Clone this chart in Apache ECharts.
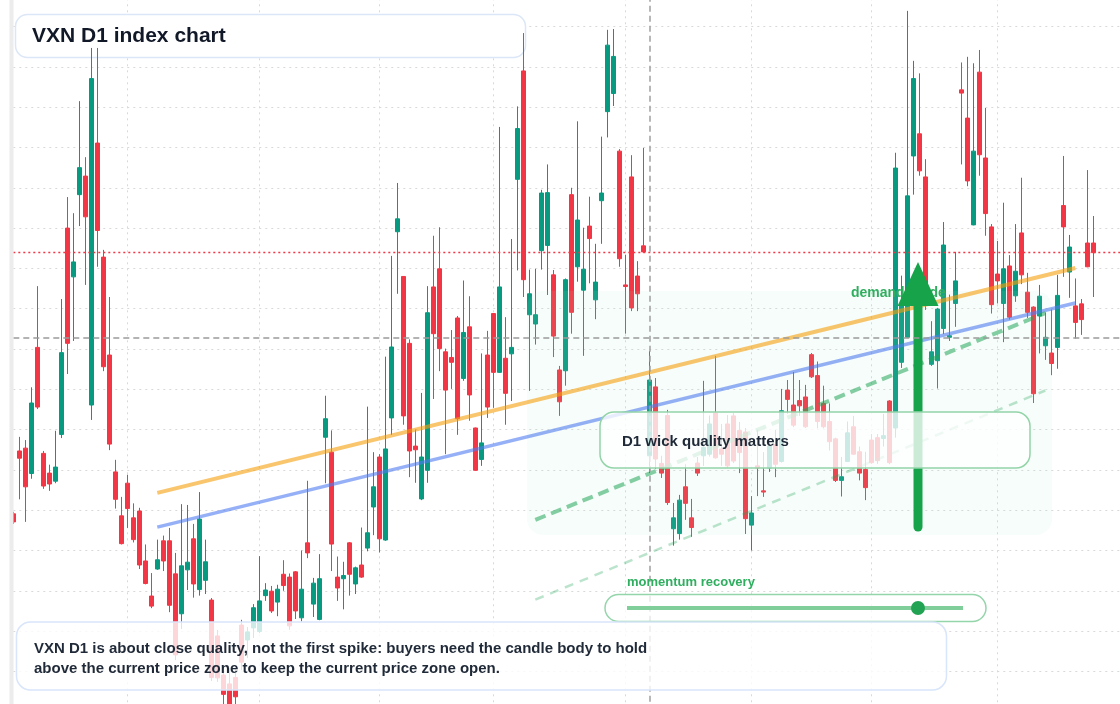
<!DOCTYPE html>
<html>
<head>
<meta charset="utf-8">
<script src="https://cdn.jsdelivr.net/npm/echarts@6/dist/echarts.min.js"></script>
<style>
html,body{margin:0;padding:0;background:#ffffff;}
#chart{width:1120px;height:704px;}
</style>
</head>
<body>
<div id="chart"></div>
<script>
// ---- data (VXN daily candles) ----
const openVals = [
27.91,29.47,29.54,28.91,32.04,29.41,28.92,28.72,29.88,35.00,
33.79,35.83,36.29,30.61,37.11,34.28,31.85,28.95,27.86,28.67,
27.81,27.98,26.74,25.87,26.54,27.24,27.24,26.42,25.43,26.52,
27.29,26.03,26.26,25.77,24.88,23.91,23.69,23.85,25.15,24.78,
25.08,24.99,25.88,25.99,25.72,26.41,26.34,26.47,25.33,27.19,
25.67,25.29,29.81,29.44,26.34,26.30,27.19,26.17,26.64,27.06,
28.08,29.32,27.26,30.29,34.91,33.80,32.14,29.59,28.28,28.99,
33.54,33.99,31.93,31.79,32.77,31.27,32.55,30.04,29.26,31.85,
32.88,31.42,31.77,31.88,36.21,38.90,32.85,32.62,34.44,34.57,
33.84,31.48,31.46,35.83,34.04,33.46,35.05,33.22,35.68,37.89,
38.34,36.91,33.59,36.27,33.81,34.56,29.35,31.06,29.16,30.35,
27.54,27.42,28.58,27.81,29.17,29.35,29.39,30.41,29.52,30.14,
30.34,29.98,29.94,27.63,29.10,28.48,29.05,29.63,29.21,30.98,
30.61,30.72,30.81,31.86,31.34,30.65,30.20,29.77,28.74,29.21,
30.07,29.45,29.01,29.74,29.80,29.78,30.71,30.04,31.67,32.29,
36.79,37.34,36.27,31.62,31.71,32.51,32.29,33.13,38.43,37.73,
35.08,38.87,36.74,35.03,33.86,33.13,34.06,33.32,34.88,33.41,
33.04,32.82,32.08,31.90,32.04,35.56,33.91,33.07,33.12,34.63,
34.63
];
const closeVals = [
27.71,29.29,28.58,30.66,30.56,28.60,28.65,29.07,31.91,32.14,
34.16,36.50,35.28,38.71,34.94,31.56,29.64,28.27,27.17,28.04,
27.27,26.64,26.18,25.62,26.77,26.74,25.64,24.41,26.62,26.71,
26.17,27.78,26.72,23.85,23.84,23.43,23.14,23.37,24.23,24.98,
25.58,25.75,26.02,25.50,26.04,26.13,25.13,25.50,26.04,26.94,
26.19,26.30,30.27,27.16,26.07,26.38,26.41,26.57,26.34,27.44,
28.58,27.29,29.52,32.05,35.23,30.34,29.47,29.50,29.32,32.90,
32.38,32.01,30.98,31.67,30.27,32.41,30.86,28.99,29.67,30.56,
31.42,33.54,30.90,32.04,37.47,33.72,33.37,32.85,35.87,35.88,
32.32,30.69,33.72,32.91,35.20,33.98,34.74,33.66,35.87,39.54,
39.26,34.24,33.55,33.02,33.37,34.41,31.23,29.27,28.92,28.19,
27.81,28.25,28.17,27.57,28.92,29.56,30.14,29.30,29.39,29.10,
29.22,29.43,27.79,27.93,29.05,28.45,29.59,29.14,30.47,30.75,
30.11,30.59,30.07,31.31,30.20,30.07,29.70,28.74,28.83,29.92,
29.39,28.92,28.56,29.18,29.23,29.85,29.18,36.49,33.08,35.80,
38.71,36.42,33.13,31.93,32.99,34.58,32.33,33.69,38.35,36.17,
36.91,36.82,35.36,33.10,33.69,33.99,32.79,33.93,33.84,32.91,
30.89,33.31,32.29,31.64,33.33,35.03,34.53,32.66,32.73,34.04,
34.39
];
const lowVals = [
27.66,28.27,27.71,28.78,30.51,28.53,28.48,28.67,29.79,31.38,
32.20,35.05,33.59,30.24,34.04,31.45,29.49,28.04,27.15,27.56,
27.20,26.54,26.16,25.57,26.52,26.49,25.47,24.28,25.05,26.02,
25.83,25.88,25.92,23.76,23.74,23.05,23.02,23.19,24.03,24.33,
24.83,24.95,25.75,25.45,25.37,26.00,25.03,25.30,25.24,26.81,
25.35,25.27,28.67,26.49,25.75,25.54,25.88,25.92,26.32,26.98,
27.38,26.95,27.24,29.87,33.37,30.12,28.82,28.68,28.25,28.68,
30.76,31.45,29.39,31.01,29.87,31.21,30.22,28.98,29.10,30.29,
30.54,31.41,30.12,30.71,33.95,33.29,30.96,32.11,33.97,33.34,
31.80,30.34,31.09,32.38,33.67,31.83,33.63,32.74,34.61,37.25,
38.03,34.04,32.38,32.94,32.94,34.39,28.92,29.02,28.80,28.13,
27.12,27.27,27.76,27.34,28.85,29.10,29.33,29.28,29.10,29.05,
29.17,28.92,27.41,27.00,28.35,28.33,28.95,28.82,29.18,30.39,
30.06,30.34,30.04,31.28,30.03,30.03,29.48,28.70,28.34,29.20,
29.37,28.74,28.25,29.15,29.15,29.58,29.14,29.80,31.53,32.27,
35.83,36.30,32.97,31.58,31.02,32.37,32.20,32.55,36.58,36.04,
35.07,36.30,34.81,32.88,33.13,32.17,32.73,33.17,33.61,32.77,
30.66,31.89,31.73,31.35,31.51,33.79,33.27,32.26,32.35,34.03,
33.29
];
const highVals = [
27.96,29.82,29.74,31.05,33.56,29.47,29.13,29.97,33.24,35.77,
35.37,38.15,36.76,39.47,39.47,34.46,33.29,29.25,28.33,28.88,
28.17,28.06,27.15,26.44,27.27,27.37,27.56,26.94,28.15,28.13,
27.66,28.45,27.27,25.82,25.03,24.16,24.08,24.08,25.28,25.10,
25.67,26.86,26.19,26.12,26.15,26.76,26.43,26.49,27.00,28.73,
26.32,26.91,30.84,29.98,26.85,26.72,27.21,26.60,27.57,30.57,
29.44,29.39,31.81,34.31,36.12,33.81,32.24,30.00,30.91,33.56,
34.81,35.02,32.01,32.47,32.82,33.70,33.31,30.05,31.89,32.45,
32.89,37.51,32.79,34.73,38.02,39.84,33.97,33.99,35.95,36.58,
33.96,31.58,33.75,36.00,37.65,35.01,35.78,34.61,37.27,39.92,
39.94,36.96,34.34,36.81,34.18,36.99,31.95,31.28,29.35,30.49,
28.18,28.38,29.14,28.28,29.32,31.21,30.35,31.83,30.14,30.36,
30.41,30.19,30.04,28.35,29.99,29.44,29.74,29.99,31.01,31.23,
31.43,31.23,31.11,31.90,31.69,31.09,30.65,29.80,29.32,30.20,
30.34,29.58,29.45,29.89,29.89,30.39,30.73,36.87,33.82,40.39,
39.15,38.84,36.71,32.69,33.02,35.15,33.35,34.41,39.11,39.25,
39.09,39.42,37.98,35.10,34.68,35.63,34.33,35.10,36.25,33.89,
33.06,33.59,32.91,32.98,33.84,36.79,34.83,33.75,33.24,36.44,
35.30
];
// candle slots on the axis (data + empty slots to the right)
const totalSlots = 186;
// month-start candles where vertical grid lines are drawn
const monthLineIdx = [19, 41, 61, 80, 102, 123, 143, 164];
// reference levels
const redLevel = 34.41;
const currentLevel = 32.27;
const focusIdx = 106;
// guide lines [candle index, value]
const orangeGuide = [[24, 28.43], [177, 34.01]];
const blueGuide = [[24, 27.58], [177, 33.14]];
const greenGuide = [[87, 27.76], [172, 32.89]];
const paleGuide = [[87, 25.78], [172, 30.97]];

// ---- category labels (trading days) ----
const categories = [];
{
  const d = new Date(Date.UTC(2024, 0, 2));
  while (categories.length < totalSlots) {
    const wd = d.getUTCDay();
    if (wd !== 0 && wd !== 6) categories.push(d.toISOString().slice(0, 10));
    d.setUTCDate(d.getUTCDate() + 1);
  }
}
const candleData = openVals.map((o, i) => [o, closeVals[i], lowVals[i], highVals[i]]);
const toSeries = (pts) => pts.map(p => [categories[p[0]], p[1]]);

const FONT = '"Liberation Sans", Arial, Helvetica, sans-serif';
const UP = '#089981', DOWN = '#f23645';
const gridLine = { color: '#d9d9d9', width: 1, type: [2, 4] };

function txt(text, x, y, size, color, z) {
  return {
    type: 'text', z: z, silent: true,
    style: {
      text: text, x: x, y: y,
      font: 'bold ' + size + 'px ' + FONT,
      fill: color,
      align: 'left', verticalAlign: 'middle',
      textAlign: 'left', textVerticalAlign: 'middle'
    }
  };
}

const chart = echarts.init(document.getElementById('chart'), null, { renderer: 'canvas' });
chart.setOption({
  animation: false,
  backgroundColor: '#ffffff',
  grid: { left: 13.3, right: -3.3, top: -13.7, bottom: -7.7, containLabel: false, outerBoundsMode: 'none' },
  xAxis: {
    type: 'category',
    data: categories,
    boundaryGap: false,
    axisLine: { show: false },
    axisTick: { show: false },
    axisLabel: { show: false },
    splitLine: {
      show: true,
      interval: (idx) => monthLineIdx.indexOf(idx) >= 0,
      lineStyle: gridLine
    }
  },
  yAxis: {
    type: 'value',
    min: 23, max: 41, interval: 1,
    axisLine: { show: false },
    axisTick: { show: false },
    axisLabel: { show: false },
    splitLine: { show: true, lineStyle: gridLine }
  },
  series: [
    {
      type: 'candlestick',
      z: 2,
      clip: true,
      barWidth: 4,
      data: candleData,
      itemStyle: {
        color: UP, color0: DOWN,
        borderColor: UP, borderColor0: DOWN,
        borderWidth: 1
      },
      markLine: {
        silent: true,
        symbol: ['none', 'none'],
        label: { show: false },
        emphasis: { disabled: true },
        data: [
          { yAxis: redLevel, lineStyle: { color: '#f23645', type: [2, 3], width: 1.3 } },
          { yAxis: currentLevel, lineStyle: { color: '#9a9a9a', type: [6, 4], width: 1.5 } },
          { xAxis: categories[focusIdx], lineStyle: { color: '#a0a0a0', type: [6, 4], width: 1.5 } }
        ]
      }
    },
    {
      type: 'line', z: 4, silent: true, symbol: 'none',
      data: toSeries(orangeGuide),
      lineStyle: { color: '#f59e0b', width: 4, opacity: 0.6 }
    },
    {
      type: 'line', z: 4, silent: true, symbol: 'none',
      data: toSeries(blueGuide),
      lineStyle: { color: '#4f7cf0', width: 3.5, opacity: 0.6 }
    },
    {
      type: 'line', z: 4, silent: true, symbol: 'none',
      data: toSeries(greenGuide),
      lineStyle: { color: '#22a55a', width: 4, opacity: 0.55, type: [11, 6] }
    },
    {
      type: 'line', z: 4, silent: true, symbol: 'none',
      data: toSeries(paleGuide),
      lineStyle: { color: '#22a55a', width: 2.5, opacity: 0.3, type: [9, 7] }
    }
  ],
  graphic: [
    // left edge band (covers the clipped first candle)
    { type: 'rect', z: 10, silent: true, shape: { x: 0, y: 0, width: 9.5, height: 704 }, style: { fill: '#ffffff' } },
    { type: 'rect', z: 10, silent: true, shape: { x: 9.5, y: 0, width: 4, height: 704 }, style: { fill: '#ececec' } },
    // title box (below candles)
    { type: 'rect', z: 1, silent: true, shape: { x: 15.5, y: 14.5, width: 510, height: 43, r: 12 },
      style: { fill: '#ffffff', stroke: '#dbe6f7', lineWidth: 1.5 } },
    txt('VXN D1 index chart', 32, 36.5, 21, '#111827', 20),
    // shaded focus zone
    { type: 'rect', z: 3, silent: true, shape: { x: 527, y: 291, width: 525, height: 244, r: 16 },
      style: { fill: 'rgba(170,235,195,0.09)' } },
    // demand label (under arrow)
    txt('demand guide', 851, 293, 14, '#2fae5f', 4),
    // arrow
    { type: 'line', z: 5, silent: true, shape: { x1: 918, y1: 527, x2: 918, y2: 300 },
      style: { stroke: '#16a34a', lineWidth: 9, lineCap: 'round' } },
    { type: 'polygon', z: 5, silent: true, shape: { points: [[918, 262], [938.5, 306], [897.5, 306]] },
      style: { fill: '#16a34a' } },
    // D1 box
    { type: 'rect', z: 6, silent: true, shape: { x: 600, y: 412, width: 430, height: 56, r: 14 },
      style: { fill: 'rgba(255,255,255,0.78)', stroke: '#93d4a8', lineWidth: 1.5 } },
    txt('D1 wick quality matters', 622, 442, 15, '#1f2937', 7),
    // momentum slider
    txt('momentum recovery', 627, 582.5, 13, '#2fae5f', 7),
    { type: 'rect', z: 6, silent: true, shape: { x: 605, y: 594.5, width: 381, height: 27, r: 13.5 },
      style: { fill: 'rgba(255,255,255,0.75)', stroke: '#95d5aa', lineWidth: 1.5 } },
    { type: 'line', z: 7, silent: true, shape: { x1: 627, y1: 608, x2: 963, y2: 608 },
      style: { stroke: '#80ce9a', lineWidth: 4 } },
    { type: 'circle', z: 8, silent: true, shape: { cx: 918, cy: 608, r: 7 }, style: { fill: '#22a354' } },
    // bottom note box
    { type: 'rect', z: 6, silent: true, shape: { x: 16.5, y: 622, width: 930, height: 68, r: 14 },
      style: { fill: 'rgba(255,255,255,0.8)', stroke: '#d8e5fa', lineWidth: 1.5 } },
    txt('VXN D1 is about close quality, not the first spike: buyers need the candle body to hold', 34, 648.5, 15, '#1f2937', 7),
    txt('above the current price zone to keep the current price zone open.', 34, 668.5, 15, '#1f2937', 7)
  ]
});
</script>
</body>
</html>
